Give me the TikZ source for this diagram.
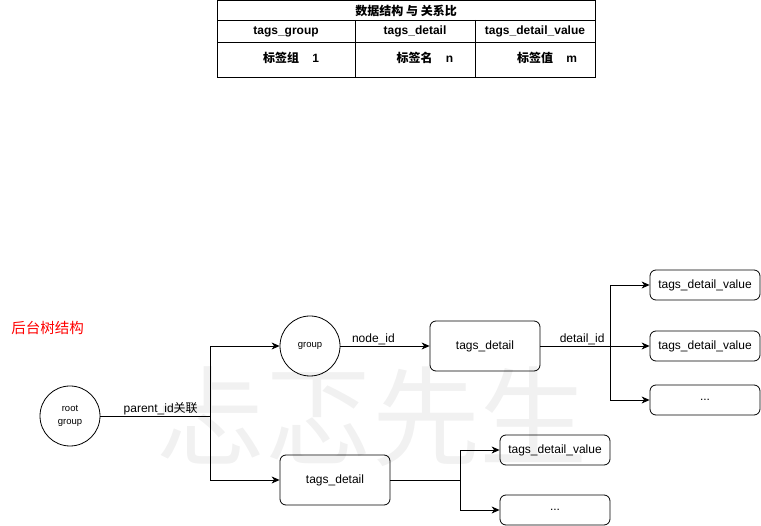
\documentclass[tikz,border=0pt]{standalone}
\usepackage{fontspec}
\setmainfont{Liberation Sans}
\newfontfamily\cjk{Noto Sans CJK SC}
\usetikzlibrary{arrows.meta}
\definecolor{wm}{HTML}{F1F1F1}
\begin{document}
\begin{tikzpicture}[x=1pt,y=-1pt,
  line width=0.8pt,
  box/.style={draw, rounded corners=6pt, minimum width=110pt, minimum height=30pt, inner sep=0pt, font=\fontsize{12}{14}\selectfont},
  circ/.style={draw, circle, minimum size=60pt, inner sep=0pt, font=\fontsize{9.5}{13}\selectfont, align=center},
  arr/.style={-{Stealth[length=8pt,width=7pt,inset=2.5pt]}},
  lbl/.style={font=\fontsize{12}{14}\selectfont, inner sep=1pt},
  th/.style={font=\bfseries\fontsize{12}{14}\selectfont, inner sep=0pt},
  tc/.style={font=\bfseries\fontsize{12}{14}\selectfont, inner sep=0pt}
]
\useasboundingbox (0,0) rectangle (761,526);
% watermark
\node[text=wm, font=\cjk\fontsize{108}{110}\selectfont, inner sep=0pt] (wmk) at (372,417) {忐忑先生};

% table
\draw (217,0.6) rectangle (595,77);
\draw (217,20) -- (595,20);
\draw (217,42) -- (595,42);
\draw (355,20) -- (355,77);
\draw (475,20) -- (475,77);
\node[th] (hd) at (406,10.5) {{\cjk 数据结构 与 关系比}};
\node[th] (c1) at (286,31.5) {tags\_group};
\node[th] (c2) at (415,31.5) {tags\_detail};
\node[th] (c3) at (535,31.5) {tags\_detail\_value};
\node[tc] (d1) at (291,57.5) {{\cjk 标签组}\hspace{1.1em}1};
\node[tc] (d2) at (425,57.5) {{\cjk 标签名}\hspace{1.1em}n};
\node[tc] (d3) at (547,57.5) {{\cjk 标签值}\hspace{1.1em}m};

% title
\node[anchor=west, text=red, font=\cjk\fontsize{14.5}{16}\selectfont, inner sep=0pt] (ttl) at (11,328) {后台树结构};

% tree nodes
\node[circ] (root) at (70,416) {root\\group};
\node[circ] (grp) at (310,346) {group};
\node[box, minimum height=50pt] (td1) at (485,346) {tags\_detail};
\node[box] (v1) at (705,285) {tags\_detail\_value};
\node[box] (v2) at (705,346) {tags\_detail\_value};
\node[box] (v3) at (705,400) {...};
\node[box, minimum height=50pt] (td2) at (335,480) {tags\_detail};
\node[box] (v4) at (555,450) {tags\_detail\_value};
\node[box] (v5) at (555,510) {...};

\coordinate (j1) at (210,416);
\coordinate (j2) at (610,346);
\coordinate (j3) at (460,480);

\draw (root.east) -- node[lbl, above, pos=0.55] (l1) {parent\_id{\cjk 关联}} (j1);
\draw[arr] (j1) |- (grp.west);
\draw[arr] (j1) |- (td2.west);
\draw[arr] (grp.east) -- node[lbl, above, pos=0.37] (l2) {node\_id} (td1.west);
\draw (td1.east) -- node[lbl, above, pos=0.6] (l3) {detail\_id} (j2);
\draw[arr] (j2) |- (v1.west);
\draw[arr] (j2) -- (v2.west);
\draw[arr] (j2) |- (v3.west);
\draw (td2.east) -- (j3);
\draw[arr] (j3) |- (v4.west);
\draw[arr] (j3) |- (v5.west);
\end{tikzpicture}
\end{document}
